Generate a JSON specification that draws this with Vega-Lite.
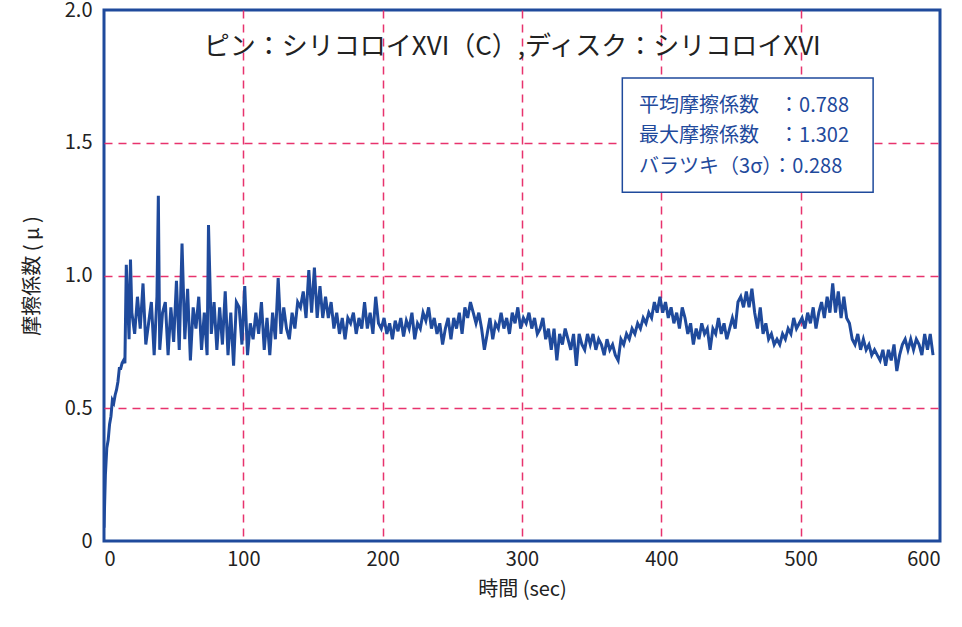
{
  "$schema": "https://vega.github.io/schema/vega-lite/v6.json",
  "width": 836,
  "height": 531,
  "autosize": "none",
  "padding": {"left": 104, "top": 10, "right": 22, "bottom": 86},
  "background": "white",
  "config": {
    "font": "Noto Sans CJK JP",
    "view": {"stroke": "#1f4a9c", "strokeWidth": 3},
    "axis": {
      "domain": false,
      "ticks": false,
      "grid": true,
      "gridDash": [8, 6],
      "gridWidth": 1.5,
      "labelFontSize": 20,
      "labelColor": "#222",
      "titleFontSize": 20,
      "titleFontWeight": "normal",
      "titleColor": "#222",
      "labelFont": "Noto Sans CJK JP",
      "titleFont": "Noto Sans CJK JP"
    }
  },
  "layer": [
    {
      "data": {"values": [
        {"t":0,"mu":0.05},{"t":1,"mu":0.25},{"t":2,"mu":0.35},{"t":3,"mu":0.38},{"t":4,"mu":0.44},{"t":5,"mu":0.47},{"t":6,"mu":0.53},{"t":7,"mu":0.52},{"t":8,"mu":0.55},{"t":9,"mu":0.57},{"t":10,"mu":0.6},{"t":11,"mu":0.65},{"t":12,"mu":0.65},{"t":13,"mu":0.67},{"t":14,"mu":0.68},{"t":15,"mu":0.67},{"t":16,"mu":1.04},{"t":17,"mu":0.9},{"t":18,"mu":0.76},{"t":19,"mu":1.06},{"t":20,"mu":0.86},
        {"t":22,"mu":0.78},{"t":24,"mu":0.92},{"t":26,"mu":0.8},{"t":28,"mu":0.97},{"t":30,"mu":0.74},{"t":32,"mu":0.82},{"t":34,"mu":0.9},{"t":36,"mu":0.7},{"t":38,"mu":0.92},{"t":39,"mu":1.3},{"t":40,"mu":0.72},{"t":42,"mu":0.86},{"t":44,"mu":0.9},{"t":46,"mu":0.7},{"t":48,"mu":0.88},{"t":50,"mu":0.75},{"t":52,"mu":0.98},{"t":54,"mu":0.72},{"t":56,"mu":1.12},{"t":58,"mu":0.76},{"t":60,"mu":0.95},{"t":62,"mu":0.68},{"t":64,"mu":0.88},{"t":66,"mu":0.8},{"t":68,"mu":0.92},{"t":70,"mu":0.72},{"t":72,"mu":0.86},{"t":74,"mu":0.7},{"t":75,"mu":1.19},{"t":77,"mu":0.78},{"t":79,"mu":0.9},{"t":81,"mu":0.72},{"t":83,"mu":0.88},{"t":85,"mu":0.74},{"t":87,"mu":0.94},{"t":89,"mu":0.7},{"t":91,"mu":0.86},{"t":93,"mu":0.66},{"t":95,"mu":0.9},{"t":97,"mu":0.88},{"t":99,"mu":0.74},
        {"t":101,"mu":0.96},{"t":103,"mu":0.7},{"t":105,"mu":0.82},{"t":107,"mu":0.76},{"t":109,"mu":0.86},{"t":111,"mu":0.78},{"t":113,"mu":0.9},{"t":115,"mu":0.72},{"t":117,"mu":0.84},{"t":119,"mu":0.7},{"t":121,"mu":0.86},{"t":123,"mu":0.76},{"t":125,"mu":0.99},{"t":127,"mu":0.78},{"t":129,"mu":0.88},{"t":131,"mu":0.8},{"t":133,"mu":0.76},{"t":135,"mu":0.86},{"t":137,"mu":0.8},{"t":139,"mu":0.9},{"t":141,"mu":0.88},{"t":143,"mu":0.94},{"t":145,"mu":0.84},{"t":147,"mu":1.02},{"t":149,"mu":0.86},{"t":151,"mu":1.03},{"t":153,"mu":0.84},{"t":155,"mu":0.96},{"t":157,"mu":0.84},{"t":159,"mu":0.92},{"t":161,"mu":0.84},{"t":163,"mu":0.9},{"t":165,"mu":0.8},{"t":167,"mu":0.86},{"t":169,"mu":0.78},{"t":171,"mu":0.84},{"t":173,"mu":0.76},{"t":175,"mu":0.84},{"t":177,"mu":0.82},{"t":179,"mu":0.86},{"t":181,"mu":0.78},{"t":183,"mu":0.84},{"t":185,"mu":0.8},{"t":187,"mu":0.9},{"t":189,"mu":0.8},{"t":191,"mu":0.86},{"t":193,"mu":0.78},{"t":195,"mu":0.92},{"t":197,"mu":0.82},{"t":199,"mu":0.8},
        {"t":201,"mu":0.84},{"t":203,"mu":0.78},{"t":205,"mu":0.82},{"t":207,"mu":0.76},{"t":209,"mu":0.83},{"t":211,"mu":0.79},{"t":213,"mu":0.84},{"t":215,"mu":0.77},{"t":217,"mu":0.83},{"t":219,"mu":0.8},{"t":221,"mu":0.86},{"t":223,"mu":0.76},{"t":225,"mu":0.82},{"t":227,"mu":0.8},{"t":229,"mu":0.86},{"t":231,"mu":0.83},{"t":233,"mu":0.88},{"t":235,"mu":0.8},{"t":237,"mu":0.84},{"t":239,"mu":0.78},{"t":241,"mu":0.82},{"t":243,"mu":0.74},{"t":245,"mu":0.8},{"t":247,"mu":0.84},{"t":249,"mu":0.76},{"t":251,"mu":0.84},{"t":253,"mu":0.8},{"t":255,"mu":0.86},{"t":257,"mu":0.78},{"t":259,"mu":0.88},{"t":261,"mu":0.84},{"t":263,"mu":0.9},{"t":265,"mu":0.86},{"t":267,"mu":0.82},{"t":269,"mu":0.86},{"t":271,"mu":0.8},{"t":273,"mu":0.72},{"t":275,"mu":0.78},{"t":277,"mu":0.84},{"t":279,"mu":0.76},{"t":281,"mu":0.82},{"t":283,"mu":0.8},{"t":285,"mu":0.86},{"t":287,"mu":0.8},{"t":289,"mu":0.84},{"t":291,"mu":0.78},{"t":293,"mu":0.86},{"t":295,"mu":0.82},{"t":297,"mu":0.88},{"t":299,"mu":0.8},
        {"t":301,"mu":0.84},{"t":303,"mu":0.82},{"t":305,"mu":0.86},{"t":307,"mu":0.8},{"t":309,"mu":0.84},{"t":311,"mu":0.78},{"t":313,"mu":0.8},{"t":315,"mu":0.84},{"t":317,"mu":0.76},{"t":319,"mu":0.8},{"t":321,"mu":0.72},{"t":323,"mu":0.8},{"t":325,"mu":0.68},{"t":327,"mu":0.78},{"t":329,"mu":0.74},{"t":331,"mu":0.8},{"t":333,"mu":0.76},{"t":335,"mu":0.72},{"t":337,"mu":0.78},{"t":339,"mu":0.66},{"t":341,"mu":0.78},{"t":343,"mu":0.74},{"t":345,"mu":0.72},{"t":347,"mu":0.78},{"t":349,"mu":0.74},{"t":351,"mu":0.78},{"t":353,"mu":0.72},{"t":355,"mu":0.76},{"t":357,"mu":0.74},{"t":359,"mu":0.7},{"t":361,"mu":0.76},{"t":363,"mu":0.72},{"t":365,"mu":0.74},{"t":367,"mu":0.7},{"t":369,"mu":0.68},{"t":371,"mu":0.76},{"t":373,"mu":0.74},{"t":375,"mu":0.78},{"t":377,"mu":0.76},{"t":379,"mu":0.8},{"t":381,"mu":0.78},{"t":383,"mu":0.82},{"t":385,"mu":0.8},{"t":387,"mu":0.84},{"t":389,"mu":0.82},{"t":391,"mu":0.86},{"t":393,"mu":0.84},{"t":395,"mu":0.9},{"t":397,"mu":0.86},{"t":399,"mu":0.92},
        {"t":401,"mu":0.86},{"t":403,"mu":0.9},{"t":405,"mu":0.84},{"t":407,"mu":0.88},{"t":409,"mu":0.82},{"t":411,"mu":0.86},{"t":413,"mu":0.8},{"t":415,"mu":0.88},{"t":417,"mu":0.84},{"t":419,"mu":0.78},{"t":421,"mu":0.82},{"t":423,"mu":0.74},{"t":425,"mu":0.8},{"t":427,"mu":0.76},{"t":429,"mu":0.82},{"t":431,"mu":0.78},{"t":433,"mu":0.8},{"t":435,"mu":0.72},{"t":437,"mu":0.8},{"t":439,"mu":0.78},{"t":441,"mu":0.84},{"t":443,"mu":0.78},{"t":445,"mu":0.82},{"t":447,"mu":0.76},{"t":449,"mu":0.8},{"t":451,"mu":0.84},{"t":453,"mu":0.8},{"t":455,"mu":0.9},{"t":457,"mu":0.92},{"t":459,"mu":0.88},{"t":461,"mu":0.94},{"t":463,"mu":0.88},{"t":465,"mu":0.95},{"t":467,"mu":0.86},{"t":469,"mu":0.8},{"t":471,"mu":0.88},{"t":473,"mu":0.78},{"t":475,"mu":0.82},{"t":477,"mu":0.76},{"t":479,"mu":0.78},{"t":481,"mu":0.74},{"t":483,"mu":0.76},{"t":485,"mu":0.74},{"t":487,"mu":0.78},{"t":489,"mu":0.76},{"t":491,"mu":0.8},{"t":493,"mu":0.78},{"t":495,"mu":0.84},{"t":497,"mu":0.8},{"t":499,"mu":0.82},
        {"t":501,"mu":0.84},{"t":503,"mu":0.8},{"t":505,"mu":0.86},{"t":507,"mu":0.82},{"t":509,"mu":0.88},{"t":511,"mu":0.8},{"t":513,"mu":0.86},{"t":515,"mu":0.9},{"t":517,"mu":0.84},{"t":519,"mu":0.92},{"t":521,"mu":0.86},{"t":523,"mu":0.97},{"t":525,"mu":0.86},{"t":527,"mu":0.94},{"t":529,"mu":0.84},{"t":531,"mu":0.92},{"t":533,"mu":0.84},{"t":535,"mu":0.82},{"t":537,"mu":0.76},{"t":539,"mu":0.74},{"t":541,"mu":0.78},{"t":543,"mu":0.72},{"t":545,"mu":0.76},{"t":547,"mu":0.72},{"t":549,"mu":0.74},{"t":551,"mu":0.7},{"t":553,"mu":0.72},{"t":555,"mu":0.7},{"t":557,"mu":0.68},{"t":559,"mu":0.72},{"t":561,"mu":0.66},{"t":563,"mu":0.72},{"t":565,"mu":0.68},{"t":567,"mu":0.74},{"t":569,"mu":0.64},{"t":571,"mu":0.7},{"t":573,"mu":0.74},{"t":575,"mu":0.76},{"t":577,"mu":0.72},{"t":579,"mu":0.76},{"t":581,"mu":0.72},{"t":583,"mu":0.76},{"t":585,"mu":0.74},{"t":587,"mu":0.7},{"t":589,"mu":0.78},{"t":591,"mu":0.72},{"t":593,"mu":0.78},{"t":595,"mu":0.7}
      ]},
      "mark": {"type": "line", "color": "#1f4a9c", "strokeWidth": 3, "clip": true},
      "encoding": {
        "x": {"field": "t", "type": "quantitative", "scale": {"domain": [0, 600], "nice": false}, "axis": {"values": [0,100,200,300,400,500,600], "title": "時間 (sec)", "labelPadding": 8, "titlePadding": 10, "gridColor": {"condition": {"test": "datum.value == 0 || datum.value == 600", "value": "transparent"}, "value": "#e8336d"}}},
        "y": {"field": "mu", "type": "quantitative", "scale": {"domain": [0, 2]}, "axis": {"values": [0,0.5,1,1.5,2], "labelExpr": "datum.value == 0 ? '0' : format(datum.value, '.1f')", "title": "摩擦係数 ( μ )", "labelPadding": 12, "titlePadding": 22, "gridColor": {"condition": {"test": "datum.value == 0 || datum.value == 2", "value": "transparent"}, "value": "#e8336d"}}}
      }
    },
    {
      "data": {"values": [{"x1": 372, "x2": 552, "y1": 1.314, "y2": 1.744}]},
      "mark": {"type": "rect", "fill": "white", "stroke": "#1f4a9c", "strokeWidth": 1.5},
      "encoding": {
        "x": {"field": "x1", "type": "quantitative"},
        "x2": {"field": "x2"},
        "y": {"field": "y1", "type": "quantitative"},
        "y2": {"field": "y2"}
      }
    },
    {
      "data": {"values": [
        {"x": 384, "y": 1.64, "label": "平均摩擦係数　：0.788"},
        {"x": 384, "y": 1.525, "label": "最大摩擦係数　：1.302"},
        {"x": 384, "y": 1.41, "label": "バラツキ（3σ）：0.288"}
      ]},
      "mark": {"type": "text", "align": "left", "baseline": "middle", "fontSize": 20, "color": "#1f4a9c", "font": "Noto Sans CJK JP"},
      "encoding": {
        "x": {"field": "x", "type": "quantitative"},
        "y": {"field": "y", "type": "quantitative"},
        "text": {"field": "label"}
      }
    },
    {
      "data": {"values": [{"x": 293, "y": 1.86, "label": "ピン：シリコロイXVI（C）,ディスク：シリコロイXVI"}]},
      "mark": {"type": "text", "align": "center", "baseline": "middle", "fontSize": 26, "color": "#222", "font": "Noto Sans CJK JP"},
      "encoding": {
        "x": {"field": "x", "type": "quantitative"},
        "y": {"field": "y", "type": "quantitative"},
        "text": {"field": "label"}
      }
    }
  ]
}
